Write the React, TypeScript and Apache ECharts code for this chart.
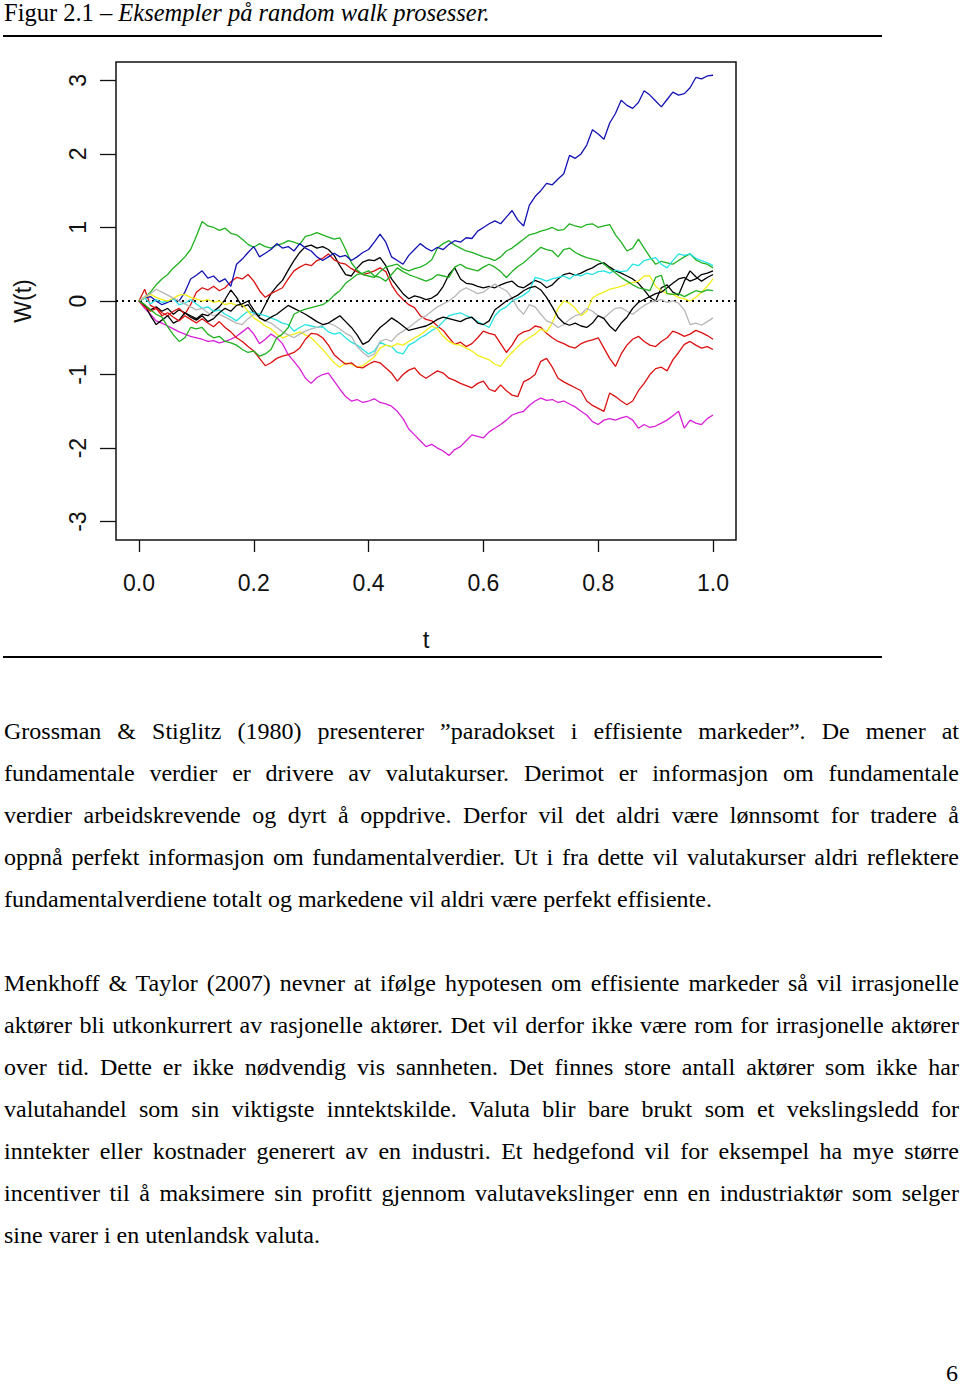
import React, { useEffect, useRef } from "react";
import * as echarts from "echarts";

// time grid (t = 0.00 ... 1.00)
const T = [
  0, 0.01, 0.02, 0.03, 0.04, 0.05, 0.06, 0.07, 0.08, 0.09,
  0.1, 0.11, 0.12, 0.13, 0.14, 0.15, 0.16, 0.17, 0.18, 0.19,
  0.2, 0.21, 0.22, 0.23, 0.24, 0.25, 0.26, 0.27, 0.28, 0.29,
  0.3, 0.31, 0.32, 0.33, 0.34, 0.35, 0.36, 0.37, 0.38, 0.39,
  0.4, 0.41, 0.42, 0.43, 0.44, 0.45, 0.46, 0.47, 0.48, 0.49,
  0.5, 0.51, 0.52, 0.53, 0.54, 0.55, 0.56, 0.57, 0.58, 0.59,
  0.6, 0.61, 0.62, 0.63, 0.64, 0.65, 0.66, 0.67, 0.68, 0.69,
  0.7, 0.71, 0.72, 0.73, 0.74, 0.75, 0.76, 0.77, 0.78, 0.79,
  0.8, 0.81, 0.82, 0.83, 0.84, 0.85, 0.86, 0.87, 0.88, 0.89,
  0.9, 0.91, 0.92, 0.93, 0.94, 0.95, 0.96, 0.97, 0.98, 0.99,
  1.0,
];

const BLACK_1 = [
  0, -0.06, -0.12, -0.08, -0.14, -0.1, -0.18, -0.12, -0.16, -0.2,
  -0.24, -0.18, -0.2, -0.14, -0.08, 0.02, 0.15, 0.05, -0.08, -0.05,
  -0.16, -0.2, -0.05, 0.1, 0.2, 0.28, 0.42, 0.55, 0.66, 0.74,
  0.76, 0.72, 0.74, 0.7, 0.62, 0.48, 0.36, 0.34, 0.45, 0.53,
  0.56, 0.55, 0.59, 0.48, 0.3, 0.2, 0.1, 0.03, 0.07, 0.05,
  0.02, 0.04, 0.09, 0.2, 0.36, 0.45, 0.3, 0.24, 0.23, 0.2,
  0.18, 0.2, 0.18, 0.22, 0.25, 0.27, 0.2, 0.18, 0.23, 0.28,
  0.25, 0.18, 0.22, 0.3, 0.36, 0.38, 0.35, 0.38, 0.42, 0.45,
  0.5, 0.52, 0.46, 0.41, 0.38, 0.34, 0.3, 0.24, 0.15, 0.05,
  0.0, 0.18, 0.22, 0.12, 0.08, 0.27, 0.41, 0.33, 0.27, 0.32,
  0.36,
];

const RED_1 = [
  0, 0.16, -0.06, -0.1, -0.16, -0.2, -0.14, -0.1, -0.18, -0.05,
  0.12, 0.18, 0.15, 0.2, 0.14, 0.18, 0.26, 0.32, 0.3, 0.36,
  0.27, 0.14, 0.05, 0.1, 0.14, 0.18, 0.3, 0.41, 0.46, 0.5,
  0.48, 0.55, 0.58, 0.64, 0.56, 0.52, 0.5, 0.44, 0.4, 0.36,
  0.38, 0.41, 0.45, 0.4, 0.22, 0.1, 0.02, -0.05, -0.09, -0.2,
  -0.25, -0.27, -0.34, -0.4, -0.5, -0.59, -0.56, -0.62, -0.58, -0.5,
  -0.41, -0.44, -0.46, -0.58, -0.7, -0.6, -0.47, -0.42, -0.4, -0.34,
  -0.36, -0.44, -0.5, -0.55, -0.58, -0.62, -0.64, -0.58, -0.55, -0.53,
  -0.5, -0.64, -0.78, -0.89, -0.72, -0.6, -0.52, -0.48, -0.55, -0.6,
  -0.62, -0.55, -0.5, -0.41, -0.44, -0.48, -0.45, -0.4, -0.43, -0.47,
  -0.52,
];

const GREEN_1 = [
  0, 0.05, 0.12, 0.22, 0.3, 0.36, 0.45, 0.52, 0.6, 0.7,
  0.88, 1.08, 1.02, 1.0, 0.96, 0.99, 0.92, 0.9, 0.84, 0.77,
  0.73, 0.78, 0.74, 0.72, 0.76, 0.78, 0.82, 0.8, 0.77, 0.88,
  0.9, 0.93, 0.9, 0.87, 0.84, 0.86, 0.7, 0.52, 0.42, 0.36,
  0.34, 0.32, 0.4, 0.46, 0.48, 0.5, 0.44, 0.41, 0.44, 0.46,
  0.5, 0.56, 0.72, 0.78, 0.82, 0.76, 0.72, 0.68, 0.66, 0.63,
  0.6, 0.58, 0.55, 0.6, 0.68, 0.72, 0.78, 0.84, 0.9, 0.92,
  0.95, 0.97, 1.0, 0.96, 0.97, 1.05, 1.02, 1.0, 1.04, 1.05,
  1.0, 1.02, 1.04, 0.9, 0.8, 0.68, 0.72, 0.84, 0.72, 0.6,
  0.5, 0.54, 0.52, 0.5, 0.55, 0.6, 0.64, 0.56, 0.52, 0.5,
  0.45,
];

const BLUE = [
  0, 0.04, 0.06, 0.0, -0.05, -0.02, 0.03, 0.0, 0.12, 0.3,
  0.35, 0.41, 0.31, 0.34, 0.26, 0.3, 0.2, 0.5, 0.57, 0.66,
  0.74, 0.6, 0.65, 0.7, 0.78, 0.72, 0.74, 0.68, 0.78, 0.72,
  0.68, 0.6, 0.55, 0.6, 0.65, 0.6, 0.62, 0.55, 0.6, 0.66,
  0.7, 0.8, 0.91, 0.8, 0.6, 0.55, 0.5, 0.62, 0.7, 0.78,
  0.72, 0.68, 0.73, 0.7, 0.77, 0.82, 0.8, 0.86, 0.85, 0.95,
  1.0, 1.05, 1.09, 1.05, 1.14, 1.23, 1.1, 1.02, 1.3, 1.42,
  1.5, 1.6, 1.58, 1.66, 1.73, 1.98, 1.94, 2.0, 2.12, 2.33,
  2.27, 2.2, 2.42, 2.55, 2.73, 2.66, 2.62, 2.7, 2.86, 2.8,
  2.72, 2.64, 2.74, 2.84, 2.8, 2.82, 2.9, 3.04, 3.02, 3.06,
  3.07,
];

const CYAN = [
  0, 0.04, -0.04, 0.02, -0.02, 0.0, 0.03, -0.05, -0.03, 0.02,
  -0.04, -0.1, -0.08, -0.14, -0.12, -0.18, -0.22, -0.27, -0.2, -0.14,
  -0.16, -0.18, -0.2, -0.23, -0.26, -0.3, -0.32, -0.41, -0.36, -0.32,
  -0.34, -0.36, -0.35, -0.42, -0.45, -0.43, -0.5, -0.56, -0.6, -0.66,
  -0.72, -0.68, -0.56, -0.6, -0.62, -0.7, -0.72, -0.6, -0.56, -0.5,
  -0.46, -0.4, -0.36, -0.28, -0.2, -0.18, -0.16, -0.2, -0.23, -0.28,
  -0.32, -0.36, -0.2, -0.12, -0.08, 0.0, 0.04, 0.08, 0.14, 0.32,
  0.3, 0.27, 0.3, 0.32, 0.34, 0.3, 0.36, 0.34, 0.38, 0.36,
  0.4, 0.41, 0.38, 0.42, 0.4, 0.41, 0.5, 0.48, 0.55, 0.57,
  0.59, 0.5, 0.45, 0.55, 0.64, 0.62, 0.64, 0.58, 0.55, 0.52,
  0.48,
];

const MAGENTA = [
  0, -0.1, -0.18, -0.27, -0.3, -0.34, -0.38, -0.42, -0.45, -0.48,
  -0.5, -0.52, -0.55, -0.54, -0.57, -0.55, -0.52, -0.48, -0.42, -0.36,
  -0.45, -0.58, -0.52, -0.45, -0.5, -0.58, -0.73, -0.82, -0.92, -1.05,
  -1.12, -1.04, -1.0, -0.98, -1.09, -1.2, -1.3, -1.36, -1.34, -1.38,
  -1.36, -1.33, -1.38, -1.4, -1.43, -1.5, -1.6, -1.74, -1.82, -1.9,
  -1.98, -1.95, -2.0, -2.04, -2.1, -2.02, -1.98, -1.9, -1.82, -1.84,
  -1.86, -1.78, -1.73, -1.68, -1.62, -1.55, -1.52, -1.5, -1.42, -1.36,
  -1.32, -1.35, -1.34, -1.38, -1.36, -1.4, -1.44, -1.5, -1.55, -1.64,
  -1.68, -1.62, -1.6, -1.62, -1.59, -1.57, -1.62, -1.73, -1.68, -1.72,
  -1.7, -1.66, -1.62, -1.56, -1.5, -1.73, -1.62, -1.66, -1.68, -1.6,
  -1.55,
];

const YELLOW = [
  0, 0.05, 0.09, 0.05, 0.02, 0.0, 0.04, 0.08, 0.09, 0.05,
  0.03, 0.0, 0.02, -0.02, 0.0, -0.05, -0.03, -0.06, -0.05, -0.14,
  -0.23, -0.28, -0.34, -0.38, -0.45, -0.5, -0.47, -0.45, -0.42, -0.46,
  -0.5, -0.58, -0.66, -0.75, -0.84, -0.9, -0.84, -0.86, -0.9, -0.88,
  -0.82, -0.76, -0.64, -0.6, -0.62, -0.58, -0.6, -0.55, -0.5, -0.46,
  -0.4, -0.34, -0.38, -0.48, -0.55, -0.59, -0.6, -0.64, -0.68, -0.74,
  -0.77, -0.8, -0.86, -0.89, -0.78, -0.7, -0.62, -0.55, -0.5, -0.45,
  -0.38, -0.42, -0.3, -0.1, 0.0, -0.03, -0.1, -0.2, -0.14, 0.04,
  0.09, 0.12, 0.16, 0.18, 0.2, 0.23, 0.25, 0.27, 0.34, 0.34,
  0.2, 0.14, 0.1, 0.09, 0.05, 0.03, 0.0, 0.05, 0.12, 0.2,
  0.3,
];

const GRAY = [
  0, 0.06, 0.1, 0.16, 0.12, 0.08, 0.04, 0.0, -0.04, -0.08,
  -0.12, -0.1, -0.16, -0.2, -0.18, -0.22, -0.26, -0.3, -0.32, -0.24,
  -0.18, -0.22, -0.27, -0.3, -0.36, -0.42, -0.46, -0.5, -0.45, -0.41,
  -0.38, -0.36, -0.33, -0.3, -0.33, -0.38, -0.44, -0.48, -0.62, -0.7,
  -0.76, -0.72, -0.55, -0.52, -0.55, -0.46, -0.41, -0.36, -0.3, -0.24,
  -0.2, -0.14, -0.08, -0.04, 0.0, 0.06, 0.14, 0.18, 0.14, 0.1,
  0.12, 0.18, 0.23, 0.18, 0.14, 0.04, -0.1, -0.18, -0.05, -0.08,
  -0.18, -0.27, -0.3, -0.36, -0.32, -0.25, -0.2, -0.18, -0.1, -0.14,
  -0.2, -0.23, -0.16, -0.1, -0.09, -0.14, -0.18, -0.12, -0.06, -0.02,
  0.0, 0.02, -0.02, 0.0, -0.03, -0.12, -0.32, -0.3, -0.33, -0.28,
  -0.23,
];

const BLACK_2 = [
  0, -0.05, -0.2, -0.32, -0.26, -0.2, -0.3, -0.26, -0.16, -0.22,
  -0.26, -0.2, -0.28, -0.24, -0.16, -0.1, -0.14, -0.06, -0.04, 0.0,
  -0.12, -0.23, -0.27, -0.22, -0.18, -0.12, -0.06, -0.1, -0.14, -0.18,
  -0.23, -0.28, -0.32, -0.3, -0.25, -0.2, -0.28, -0.36, -0.46, -0.59,
  -0.55, -0.45, -0.36, -0.3, -0.23, -0.28, -0.34, -0.4, -0.38, -0.36,
  -0.34, -0.3, -0.25, -0.22, -0.24, -0.26, -0.28, -0.24, -0.22, -0.3,
  -0.32, -0.27, -0.12, -0.06, 0.0, 0.04, 0.08, 0.14, 0.18, 0.2,
  0.15, 0.05, -0.08, -0.22, -0.3, -0.33, -0.3, -0.34, -0.36, -0.3,
  -0.2, -0.24, -0.34, -0.41, -0.3, -0.22, -0.1, -0.02, 0.02, 0.06,
  0.1, 0.12, 0.18, 0.24, 0.3, 0.32, 0.27, 0.3, 0.36, 0.38,
  0.41,
];

const RED_2 = [
  0, -0.08, -0.14, -0.1, -0.2, -0.16, -0.22, -0.27, -0.2, -0.25,
  -0.3, -0.24, -0.3, -0.35, -0.28, -0.36, -0.42, -0.5, -0.55, -0.62,
  -0.68, -0.78, -0.88, -0.84, -0.78, -0.75, -0.73, -0.7, -0.64, -0.52,
  -0.44, -0.45, -0.5, -0.6, -0.73, -0.8, -0.86, -0.84, -0.9, -0.91,
  -0.86, -0.82, -0.84, -0.91, -0.98, -1.09, -1.0, -0.94, -0.91, -1.0,
  -1.05, -1.0, -0.95, -0.98, -1.05, -1.08, -1.12, -1.15, -1.18, -1.12,
  -1.09, -1.2, -1.23, -1.14, -1.22, -1.28, -1.3, -1.1, -1.06, -1.0,
  -0.82, -0.78, -0.9, -1.05, -1.1, -1.14, -1.18, -1.22, -1.36, -1.42,
  -1.46, -1.5, -1.25, -1.3, -1.36, -1.41, -1.36, -1.22, -1.12, -1.0,
  -0.92, -0.9, -0.95, -0.8, -0.7, -0.59, -0.55, -0.6, -0.64, -0.62,
  -0.66,
];

const GREEN_2 = [
  0, -0.05, -0.12, -0.18, -0.22, -0.35, -0.46, -0.55, -0.5, -0.36,
  -0.38, -0.36, -0.45, -0.5, -0.48, -0.55, -0.57, -0.6, -0.66, -0.7,
  -0.68, -0.75, -0.72, -0.66, -0.5, -0.45, -0.36, -0.18, -0.14, -0.11,
  -0.09, -0.07, -0.05, 0.0, 0.08, 0.14, 0.24, 0.3, 0.36, 0.38,
  0.41, 0.34, 0.32, 0.27, 0.36, 0.45, 0.4, 0.36, 0.33, 0.3,
  0.27, 0.3, 0.36, 0.34, 0.32, 0.46, 0.5, 0.45, 0.43, 0.41,
  0.46, 0.5, 0.46, 0.4, 0.32, 0.4, 0.47, 0.52, 0.59, 0.66,
  0.73, 0.7, 0.68, 0.6, 0.7, 0.72, 0.66, 0.62, 0.59, 0.57,
  0.55, 0.5, 0.44, 0.38, 0.32, 0.27, 0.22, 0.18, 0.16, 0.14,
  0.32, 0.35, 0.1, 0.09, 0.1, 0.06, 0.1, 0.14, 0.12, 0.15,
  0.14,
];

const X_TICKS = [0, 0.2, 0.4, 0.6, 0.8, 1.0];
const Y_TICKS = [-3, -2, -1, 0, 1, 2, 3];

const X_NAME = "t";
const Y_NAME = "W(t)";

const CAPTION_LEAD = "Figur 2.1 – ";
const CAPTION_ITALIC = "Eksempler på random walk prosesser.";

const PARA_1 = [
  "Grossman & Stiglitz (1980) presenterer ”paradokset i effisiente markeder”. De mener at",
  "fundamentale verdier er drivere av valutakurser. Derimot er informasjon om fundamentale",
  "verdier arbeidskrevende og dyrt å oppdrive. Derfor vil det aldri være lønnsomt for tradere å",
  "oppnå perfekt informasjon om fundamentalverdier. Ut i fra dette vil valutakurser aldri reflektere",
  "fundamentalverdiene totalt og markedene vil aldri være perfekt effisiente.",
];

const PARA_2 = [
  "Menkhoff & Taylor (2007) nevner at ifølge hypotesen om effisiente markeder så vil irrasjonelle",
  "aktører bli utkonkurrert av rasjonelle aktører. Det vil derfor ikke være rom for irrasjonelle aktører",
  "over tid. Dette er ikke nødvendig vis sannheten. Det finnes store antall aktører som ikke har",
  "valutahandel som sin viktigste inntektskilde. Valuta blir bare brukt som et vekslingsledd for",
  "inntekter eller kostnader generert av en industri. Et hedgefond vil for eksempel ha mye større",
  "incentiver til å maksimere sin profitt gjennom valutavekslinger enn en industriaktør som selger",
  "sine varer i en utenlandsk valuta.",
];

const PAGE_NUMBER = "6";

const SERIES = [
  { name: "black 1", values: BLACK_1, color: "#000000" },
  { name: "red 1", values: RED_1, color: "#dc1010" },
  { name: "green 1", values: GREEN_1, color: "#1fb01f" },
  { name: "blue", values: BLUE, color: "#1212b4" },
  { name: "cyan", values: CYAN, color: "#25e3e3" },
  { name: "magenta", values: MAGENTA, color: "#d81fd8" },
  { name: "yellow", values: YELLOW, color: "#f3ee18" },
  { name: "gray", values: GRAY, color: "#b6b6b6" },
  { name: "black 2", values: BLACK_2, color: "#000000" },
  { name: "red 2", values: RED_2, color: "#dc1010" },
  { name: "green 2", values: GREEN_2, color: "#1fb01f" },
];

const SANS = '"Liberation Sans", Arial, sans-serif';
const SERIF = '"Liberation Serif", "Times New Roman", serif';

function Chart() {
  const ref = useRef<HTMLDivElement | null>(null);
  useEffect(() => {
    if (!ref.current) return;
    const chart = echarts.init(ref.current, undefined, { renderer: "svg" });
    const option: any = {
      animation: false,
      backgroundColor: "transparent",
      grid: {
        left: 116,
        top: 62,
        width: 620,
        height: 478,
        show: true,
        borderColor: "#111",
        borderWidth: 1.5,
        backgroundColor: "transparent",
        containLabel: false,
      },
      xAxis: {
        type: "value",
        min: -0.04,
        max: 1.04,
        position: "bottom",
        axisLine: { show: false, onZero: false },
        splitLine: { show: false },
        axisTick: {
          show: true,
          length: 12,
          inside: false,
          customValues: X_TICKS,
          lineStyle: { color: "#111", width: 1.3 },
        },
        axisLabel: {
          show: true,
          customValues: X_TICKS,
          formatter: (v: number) => v.toFixed(1),
          fontFamily: SANS,
          fontSize: 23,
          color: "#111",
          margin: 31,
        },
        name: X_NAME,
        nameLocation: "middle",
        nameGap: 87,
        nameTextStyle: { fontFamily: SANS, fontSize: 24, color: "#111" },
      },
      yAxis: {
        type: "value",
        min: -3.25,
        max: 3.25,
        position: "left",
        axisLine: { show: false, onZero: false },
        splitLine: { show: false },
        axisTick: {
          show: true,
          length: 16,
          inside: false,
          customValues: Y_TICKS,
          lineStyle: { color: "#111", width: 1.3 },
        },
        axisLabel: {
          show: true,
          customValues: Y_TICKS,
          formatter: (v: number) => String(v),
          rotate: 90,
          fontFamily: SANS,
          fontSize: 23,
          color: "#111",
          margin: 27,
        },
        name: Y_NAME,
        nameLocation: "middle",
        nameRotate: 90,
        nameGap: 82,
        nameTextStyle: { fontFamily: SANS, fontSize: 23, color: "#111" },
      },
      series: SERIES.map((s, k) => {
        const base: any = {
          type: "line",
          name: s.name,
          data: T.map((t, i) => [t, s.values[i]]),
          showSymbol: false,
          symbol: "none",
          silent: true,
          clip: true,
          lineStyle: { color: s.color, width: 1.3 },
          itemStyle: { color: s.color },
          z: 2 + k,
        };
        if (k === 0) {
          base.markLine = {
            silent: true,
            symbol: ["none", "none"],
            label: { show: false },
            lineStyle: { color: "#000", type: [2, 4], width: 2 },
            data: [{ yAxis: 0 }],
          };
        }
        return base;
      }),
    };
    chart.setOption(option);
    return () => chart.dispose();
  }, []);
  return (
    <div
      ref={ref}
      style={{ position: "absolute", left: 0, top: 0, width: 960, height: 680 }}
    />
  );
}

function Paragraph({ lines, top }: { lines: string[]; top: number }) {
  return (
    <>
      {lines.map((line, i) => {
        const last = i === lines.length - 1;
        return (
          <div
            key={i}
            style={{
              position: "absolute",
              left: 4,
              top: top + i * 42,
              width: 955,
              height: 42,
              lineHeight: "42px",
              fontFamily: SERIF,
              fontSize: 24,
              color: "#000",
              textAlign: last ? "left" : "justify",
              textAlignLast: last ? "left" : "justify",
            } as any}
          >
            {line}
          </div>
        );
      })}
    </>
  );
}

export default function App() {
  return (
    <div
      style={{
        position: "absolute",
        left: 0,
        top: 0,
        width: 960,
        height: 1385,
        background: "#fff",
        overflow: "hidden",
      }}
    >
      <div
        style={{
          position: "absolute",
          left: 4,
          top: 1,
          height: 24,
          lineHeight: "24px",
          fontFamily: SERIF,
          fontSize: 24.5,
          color: "#000",
          whiteSpace: "nowrap",
        }}
      >
        {CAPTION_LEAD}
        <i>{CAPTION_ITALIC}</i>
      </div>
      <div style={{ position: "absolute", left: 3, top: 35, width: 879, height: 2, background: "#000" }} />
      <Chart />
      <div style={{ position: "absolute", left: 3, top: 656, width: 879, height: 2, background: "#000" }} />
      <Paragraph lines={PARA_1} top={710} />
      <Paragraph lines={PARA_2} top={962} />
      <div
        style={{
          position: "absolute",
          left: 944,
          top: 1361,
          width: 14,
          height: 24,
          lineHeight: "24px",
          fontFamily: SERIF,
          fontSize: 24,
          color: "#000",
          textAlign: "right",
        }}
      >
        {PAGE_NUMBER}
      </div>
    </div>
  );
}
